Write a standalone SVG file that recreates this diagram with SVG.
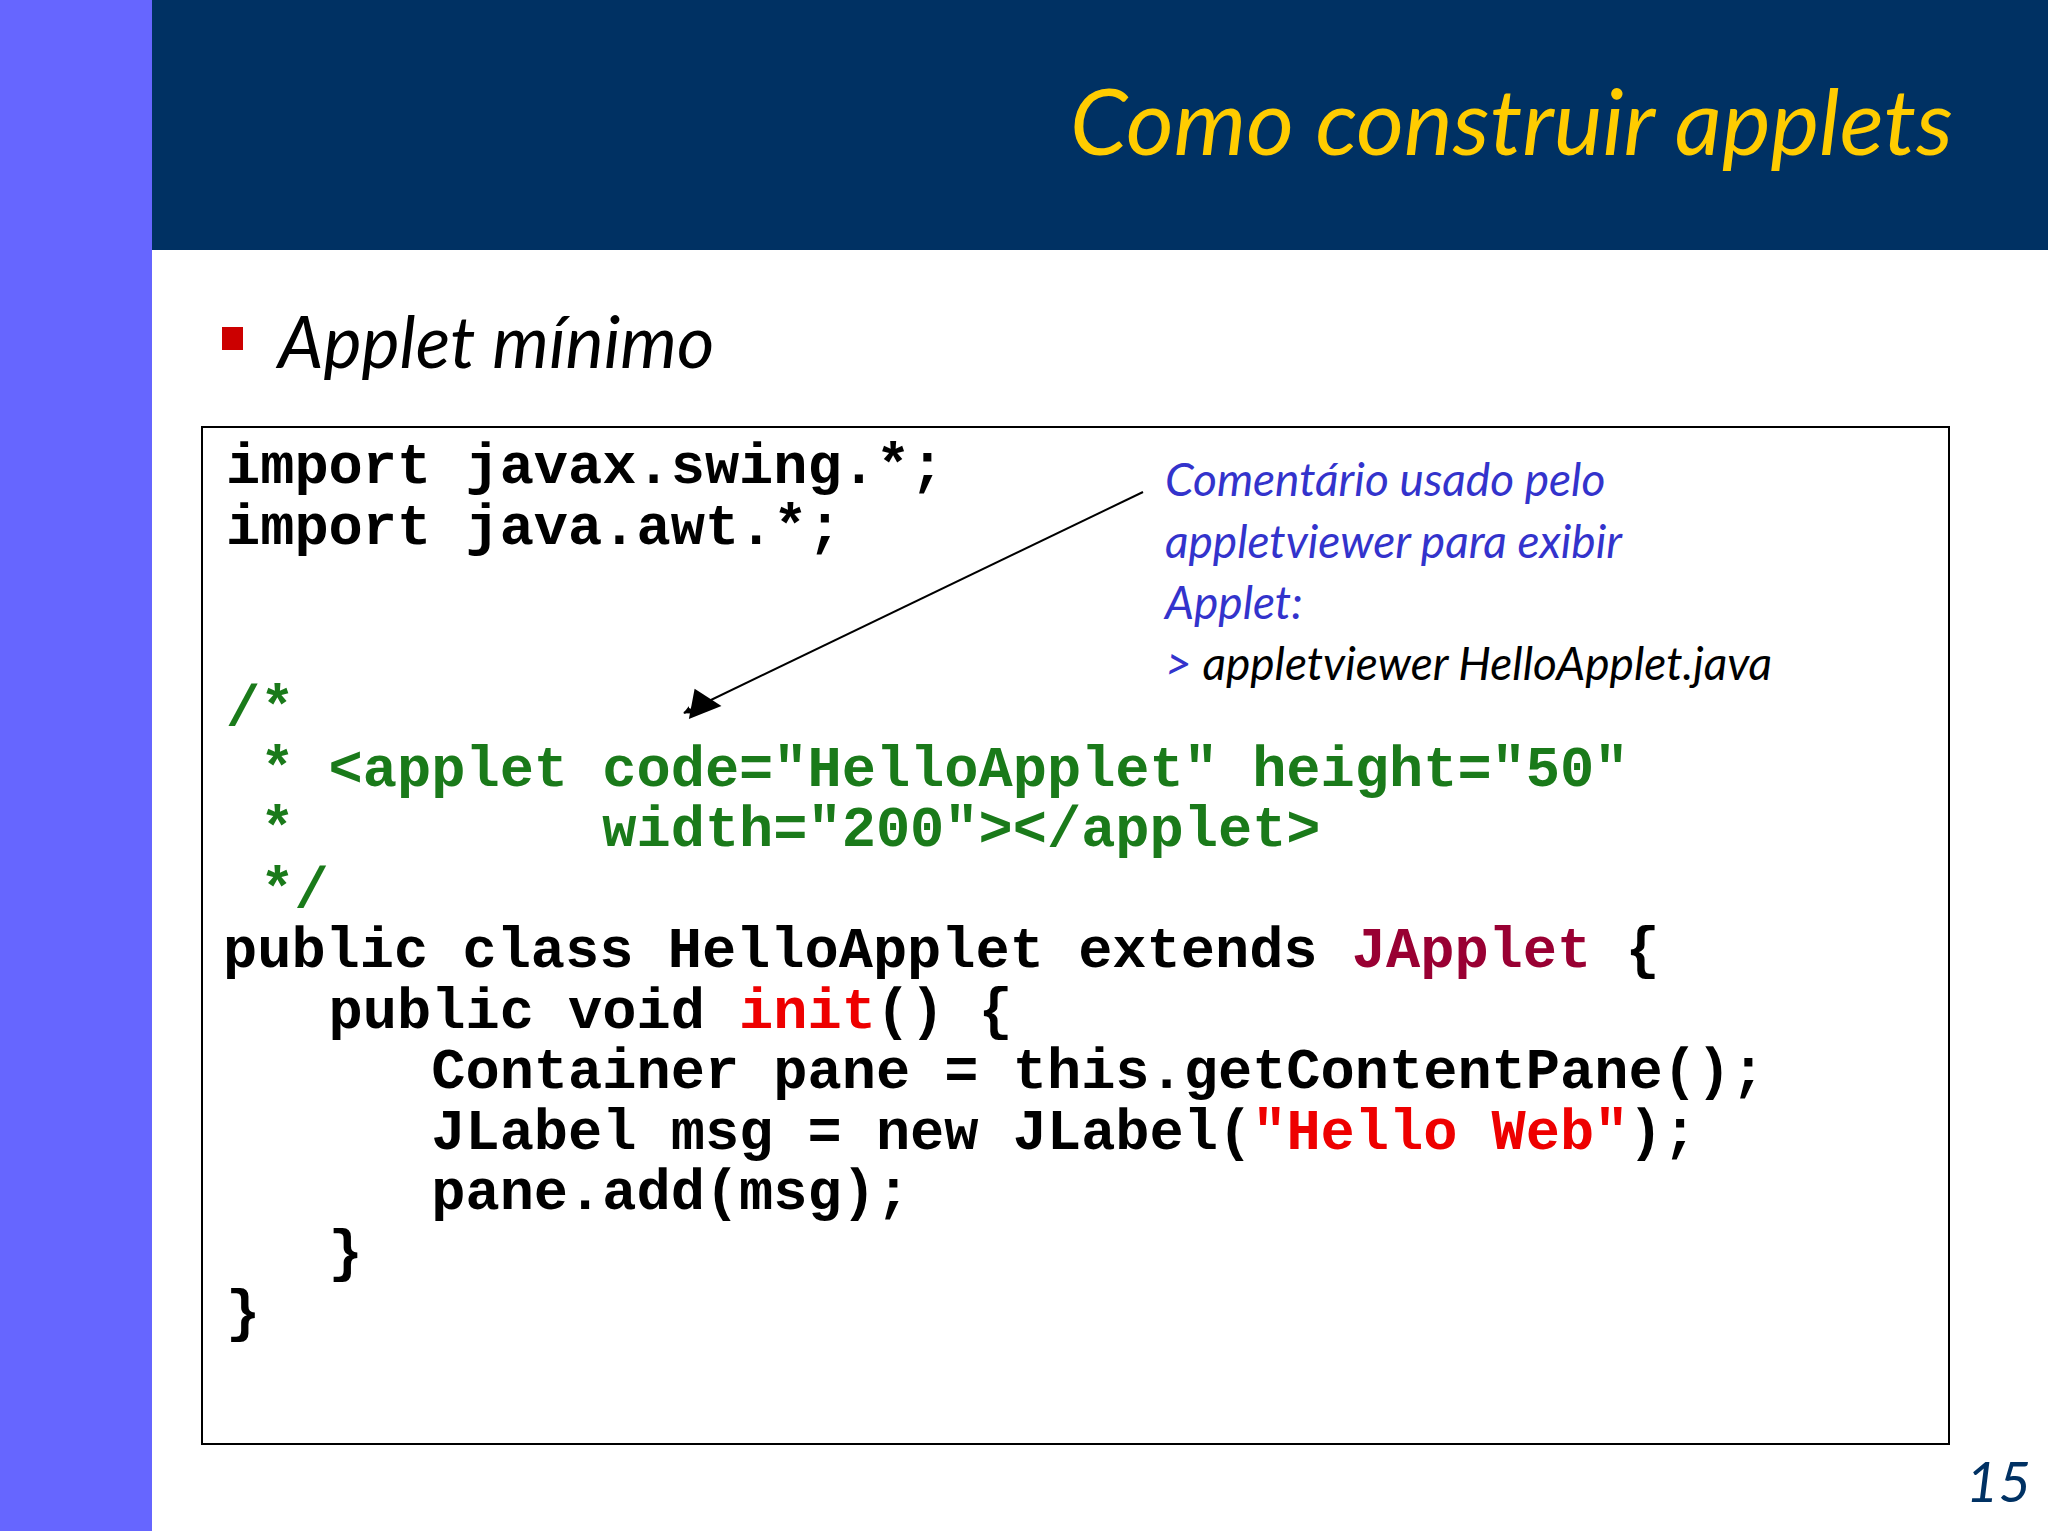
<svg xmlns="http://www.w3.org/2000/svg" width="2048" height="1531" viewBox="0 0 2048 1531">
<defs>
<style>
.code{font-family:"Liberation Mono",monospace;font-weight:bold;font-size:57px;fill:#000}
.g{fill:#1a7a1a}
.note{font-family:Lato,"Open Sans",sans-serif;font-style:italic;font-size:46px;fill:#3333cc}
</style>
<marker id="ah" viewBox="0 0 10 10" refX="9" refY="5" markerWidth="8" markerHeight="8" markerUnits="userSpaceOnUse" orient="auto"><path d="M0,0L10,5L0,10z" fill="#000"/></marker>
</defs>
<rect width="2048" height="1531" fill="#fff"/>
<rect x="0" y="0" width="152" height="1531" fill="#6666ff"/>
<rect x="152" y="0" width="1896" height="250" fill="#003163"/>
<text x="1953" y="155" text-anchor="end" font-family="Lato,sans-serif" font-style="italic" font-size="92" fill="#ffcc00">Como construir applets</text>
<rect x="222" y="327" width="21" height="23" fill="#cc0000"/>
<text x="278" y="368" font-family="Lato,sans-serif" font-style="italic" font-size="72" fill="#000">Applet mínimo</text>
<g id="codebox">
<rect x="202" y="427" width="1747" height="1017" fill="#fff" stroke="#000" stroke-width="2"/>
<text class="code" xml:space="preserve">
<tspan x="226" y="483">import javax.swing.*;</tspan>
<tspan x="226" y="544">import java.awt.*;</tspan>
<tspan x="226" y="725" class="g">/*</tspan>
<tspan x="226" y="786" class="g"> * &lt;applet code="HelloApplet" height="50"</tspan>
<tspan x="226" y="846" class="g"> *         width="200"&gt;&lt;/applet&gt;</tspan>
<tspan x="226" y="907" class="g"> */</tspan>
<tspan x="223" y="967">public class HelloApplet extends <tspan fill="#990033">JApplet</tspan> {</tspan>
<tspan x="226" y="1028">   public void <tspan fill="#ee0000">init</tspan>() {</tspan>
<tspan x="226" y="1088">      Container pane = this.getContentPane();</tspan>
<tspan x="226" y="1149">      JLabel msg = new JLabel(<tspan fill="#ee0000">"Hello Web"</tspan>);</tspan>
<tspan x="226" y="1209">      pane.add(msg);</tspan>
<tspan x="226" y="1270">   }</tspan>
<tspan x="226" y="1330">}</tspan>
</text>
</g>
<g id="note">
<text class="note"><tspan x="1165" y="496">Comentário usado pelo</tspan><tspan x="1165" y="558">appletviewer para exibir</tspan><tspan x="1165" y="619">Applet:</tspan><tspan x="1165" y="680">&gt; <tspan fill="#000">appletviewer HelloApplet.java</tspan></tspan></text>
</g>
<g id="connectors">
<line x1="1143" y1="492" x2="684" y2="713" stroke="#000" stroke-width="2" marker-end="url(#ah)"/>
<path d="M684,713 L702,688 L719,715 Z" fill="#000" transform="rotate(-25 700 705)"/>
</g>
<text x="2031" y="1502" text-anchor="end" font-family="Lato,sans-serif" font-style="italic" font-size="56" fill="#003163">15</text>
</svg>
